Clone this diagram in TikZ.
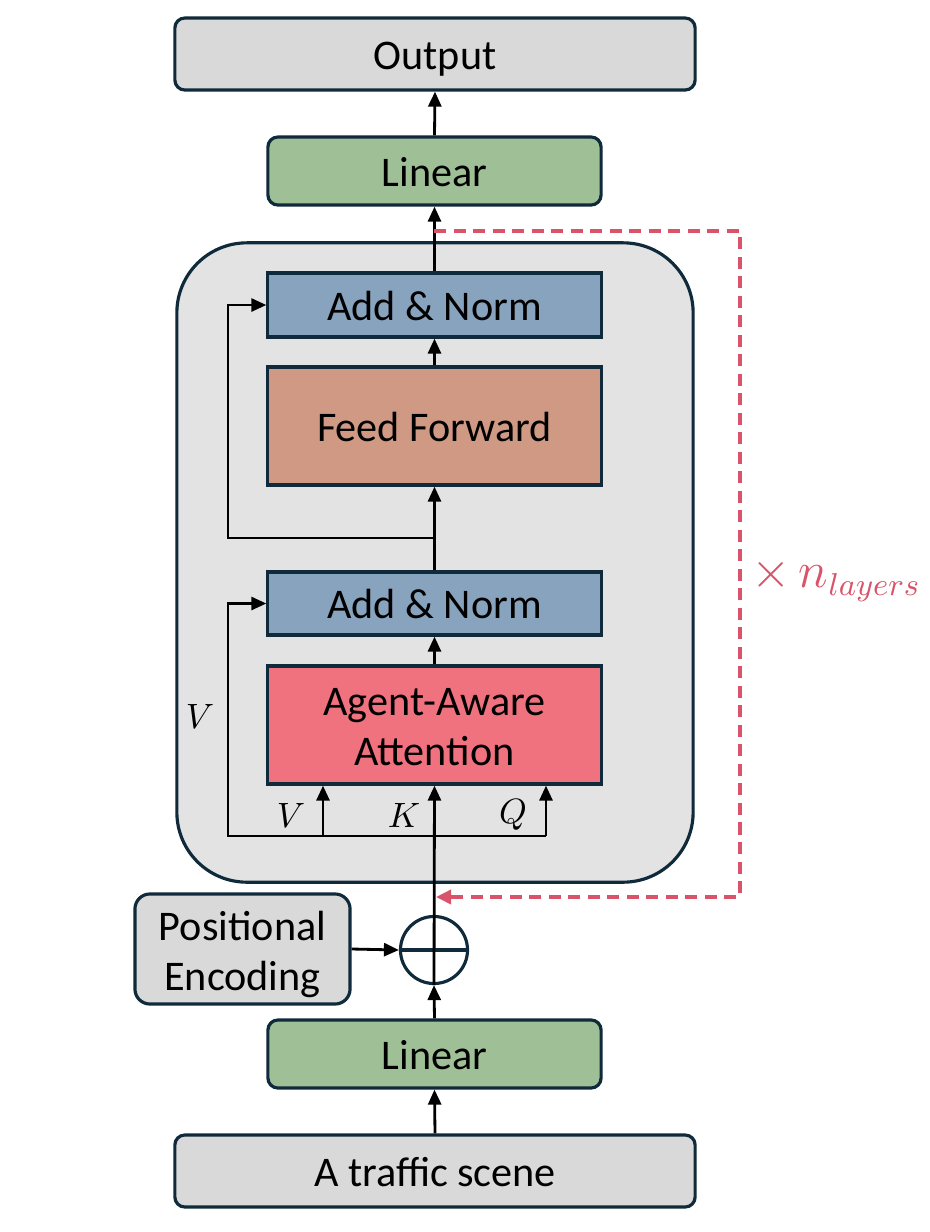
\documentclass[tikz,border=0pt]{standalone}
\usepackage{fontspec}
\setmainfont{Carlito}
\usetikzlibrary{arrows.meta,calc}
\definecolor{bd}{HTML}{0F2A3A}
\definecolor{gfill}{HTML}{D9D9D9}
\definecolor{cfill}{HTML}{E3E3E3}
\definecolor{grn}{HTML}{9FBF96}
\definecolor{blu}{HTML}{87A3BE}
\definecolor{brn}{HTML}{D09983}
\definecolor{rd}{HTML}{EF727E}
\definecolor{dred}{HTML}{D9546A}
\begin{document}
\begin{tikzpicture}[x=0.01cm,y=-0.01cm,
  box/.style={draw=bd, line width=0.9pt, inner sep=0pt, text=black, font=\fontsize{12}{14.2}\selectfont, align=center},
  sl/.style={text height=8.6pt, text depth=0pt},
  rbox/.style={box, rounded corners=0.1cm},
  arr/.style={-{Triangle[length=0.15cm,width=0.13cm]}, line width=0.8pt, draw=black},
  lbl/.style={font=\fontsize{10}{11}\selectfont, inner sep=0pt}
]
\useasboundingbox (0,0) rectangle (930,1232);
% container
\node[draw=bd, line width=0.9pt, fill=cfill, rounded corners=0.7cm, minimum width=5.16cm, minimum height=6.39cm, inner sep=0pt] (enc) at (435,562.5) {};
% boxes
\node[rbox, sl, fill=gfill, minimum width=5.2cm, minimum height=0.72cm] (out) at (435,54) {Output};
\node[rbox, sl, fill=grn, minimum width=3.33cm, minimum height=0.68cm] (lin2) at (434.5,171) {Linear};
\node[box, sl, fill=blu, minimum width=3.33cm, minimum height=0.64cm] (an2) at (434.5,305) {Add \& Norm};
\node[box, sl, fill=brn, minimum width=3.33cm, minimum height=1.18cm] (ff) at (434.5,426) {Feed Forward};
\node[box, sl, fill=blu, minimum width=3.33cm, minimum height=0.63cm] (an1) at (434.5,603.5) {Add \& Norm};
\node[box, fill=rd, minimum width=3.33cm, minimum height=1.18cm] (att) at (434.5,725) {\rule{0pt}{0.72em}Agent-Aware\\Attention};
\node[draw=bd, line width=0.9pt, circle, minimum size=0.67cm, inner sep=0pt] (oplus) at (434,950) {};
\node[rbox, fill=gfill, rounded corners=0.15cm, minimum width=2.15cm, minimum height=1.10cm] (pe) at (242.5,949) {\rule{0pt}{11.4pt}Positional\\Encoding};
\node[rbox, sl, fill=grn, minimum width=3.33cm, minimum height=0.68cm] (lin1) at (434.5,1054) {Linear};
\node[rbox, sl, fill=gfill, minimum width=5.2cm, minimum height=0.72cm] (scene) at (435,1171) {A traffic scene};
% oplus cross
\draw[bd, line width=0.9pt] (oplus.west) -- (oplus.east);
% main arrows
\draw[arr] (lin2.north) -- (out.south);
\draw[arr] (an2.north) -- (lin2.south);
\draw[arr] (ff.north) -- (an2.south);
\draw[arr] (an1.north) -- (ff.south);
\draw[arr] (att.north) -- (an1.south);
\draw[arr] (oplus.south) -- (att.south);
\draw[arr] (lin1.north) -- (oplus.south);
\draw[arr] (scene.north) -- (lin1.south);
\draw[arr] (pe.east) -- (oplus.west);
% skip connections
\coordinate (b1) at (434,538);
\coordinate (s1) at (228,538);
\draw[arr] (b1) -- (s1) |- (an2.west);
\coordinate (s2) at (228,836);
\coordinate (vq) at (546,836);
\coordinate (vv) at (323,836);
\draw[arr] (vq) -- (s2) |- (an1.west);
\draw[arr] (vv) -- (vv |- att.south);
\draw[arr] (vq) -- (vq |- att.south);
% labels
\node[lbl] (lv) at (291,815) {$V$};
\node[lbl] (lk) at (404,815) {$K$};
\node[lbl] (lq) at (513,815) {$Q$};
\node[lbl] (lv2) at (200,716) {$V$};
% repeat loop
\coordinate (d0) at (434,231);
\coordinate (d1) at (740,231);
\coordinate (d2) at (740,897);
\coordinate (d3) at (436,897);
\draw[dred, line width=1pt, dash pattern=on 0.12cm off 0.075cm, -{Triangle[length=0.15cm,width=0.14cm]}] (d0) -- (d1) -- (d2) -- (d3);
\node[text=dred, font=\fontsize{13.5}{15}\selectfont, inner sep=0pt] (nl) at (836,580) {$\times\, n_{layers}$};
\end{tikzpicture}
\end{document}
